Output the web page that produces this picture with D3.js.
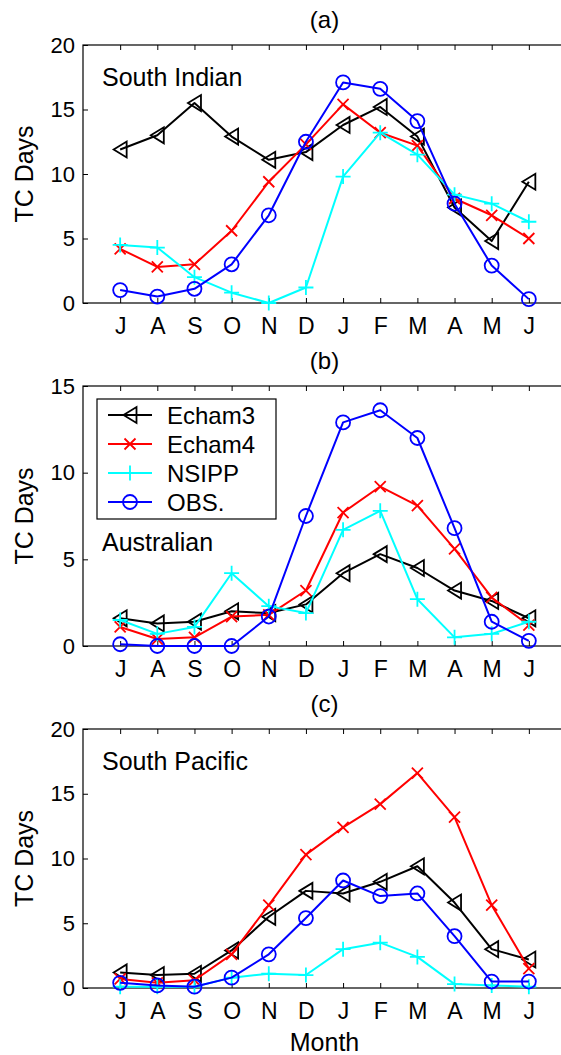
<!DOCTYPE html>
<html><head><meta charset="utf-8">
<script src="https://cdn.jsdelivr.net/npm/d3@7"></script>
<style>
body{margin:0;background:#fff;overflow:hidden;}
svg{display:block;font-family:"Liberation Sans",Arial,Helvetica,sans-serif;}
</style></head>
<body>
<svg id="chart" width="561" height="1055"></svg>
<script>
const months = ["J","A","S","O","N","D","J","F","M","A","M","J"];
const seriesNames = ["Echam3","Echam4","NSIPP","OBS."];
const seriesColors = ["#000000","#ff0000","#00ffff","#0000ff"];
const seriesMarkers = ["triangle","x","plus","circle"];

// (a) South Indian
const siEcham3 = [11.9,13.0,15.5,12.9,11.1,11.7,13.8,15.2,12.9,7.4,4.8,9.4];
const siEcham4 = [4.2,2.8,3.0,5.6,9.4,12.3,15.4,13.2,12.2,8.1,6.8,5.0];
const siNSIPP  = [4.5,4.3,2.0,0.8,0.0,1.2,9.8,13.2,11.5,8.4,7.7,6.3];
const siOBS    = [1.0,0.5,1.1,3.0,6.8,12.5,17.1,16.6,14.1,7.7,2.9,0.3];
// (b) Australian
const auEcham3 = [1.6,1.3,1.4,2.0,1.9,2.4,4.2,5.3,4.5,3.2,2.6,1.6];
const auEcham4 = [1.1,0.4,0.5,1.7,1.8,3.2,7.7,9.2,8.1,5.6,2.8,1.2];
const auNSIPP  = [1.5,0.7,1.1,4.2,2.3,1.9,6.7,7.8,2.7,0.5,0.7,1.4];
const auOBS    = [0.1,0.0,0.0,0.0,1.7,7.5,12.9,13.6,12.0,6.8,1.4,0.3];
// (c) South Pacific
const spEcham3 = [1.2,1.0,1.1,2.9,5.5,7.5,7.3,8.2,9.4,6.6,3.0,2.2];
const spEcham4 = [0.7,0.4,0.6,2.6,6.4,10.3,12.4,14.2,16.6,13.2,6.4,1.5];
const spNSIPP  = [0.1,0.1,0.1,0.8,1.1,1.0,3.0,3.5,2.4,0.3,0.2,0.1];
const spOBS    = [0.4,0.2,0.1,0.8,2.6,5.4,8.3,7.1,7.3,4.0,0.5,0.5];

const panelTitles = ["(a)","(b)","(c)"];
const regionNames = ["South Indian","Australian","South Pacific"];
const yMaxes = [20,15,20];
const yTicksA = [0,5,10,15,20];
const yTicksB = [0,5,10,15];
const yTicksC = [0,5,10,15,20];

const panels = [
  {title:panelTitles[0], region:regionNames[0], ymax:yMaxes[0], ticks:yTicksA, data:[siEcham3,siEcham4,siNSIPP,siOBS], top:45, bottom:303, legend:false},
  {title:panelTitles[1], region:regionNames[1], ymax:yMaxes[1], ticks:yTicksB, data:[auEcham3,auEcham4,auNSIPP,auOBS], top:386, bottom:646, legend:true},
  {title:panelTitles[2], region:regionNames[2], ymax:yMaxes[2], ticks:yTicksC, data:[spEcham3,spEcham4,spNSIPP,spOBS], top:729, bottom:988, legend:false}
];

const svg = d3.select("#chart");
const L = 83, R = 566;
const x = d3.scaleLinear().domain([0,13]).range([L,R]);
const monthPos = months.map((m,i)=>i+1);
const FONT = "Liberation Sans, Arial, sans-serif";

function markerPath(type){
  switch(type){
    case "triangle": return "M-6.5,0L6.5,-8L6.5,8Z";
    case "x": return "M-5.5,-5.5L5.5,5.5M-5.5,5.5L5.5,-5.5";
    case "plus": return "M-7.5,0L7.5,0M0,-7.5L0,7.5";
    case "circle": return d3.symbol().type(d3.symbolCircle).size(Math.PI*7*7)();
  }
}

function drawMarker(g, type, color, cx, cy){
  g.append("path").attr("d", markerPath(type))
    .attr("transform",`translate(${cx},${cy})`)
    .attr("fill","none").attr("stroke",color).attr("stroke-width",1.8);
}

panels.forEach(p=>{
  const y = d3.scaleLinear().domain([0,p.ymax]).range([p.bottom,p.top]);
  const g = svg.append("g");
  g.append("rect").attr("x",L).attr("y",p.top).attr("width",R-L).attr("height",p.bottom-p.top)
    .attr("fill","none").attr("stroke","#000").attr("stroke-width",1.2);
  const xb = d3.axisBottom(x).tickValues(monthPos).tickSizeInner(-5).tickSizeOuter(0)
    .tickFormat((d,i)=>months[i]);
  const xAx = g.append("g").attr("transform",`translate(0,${p.bottom})`).call(xb);
  xAx.select(".domain").remove();
  xAx.selectAll("text").attr("y",14).attr("dy","0.75em").attr("font-size",23).attr("fill","#000").attr("font-family",FONT);
  const xt = d3.axisTop(x).tickValues(monthPos).tickSizeInner(-5).tickSizeOuter(0).tickFormat("");
  g.append("g").attr("transform",`translate(0,${p.top})`).call(xt).select(".domain").remove();
  const yl = d3.axisLeft(y).tickValues(p.ticks).tickSizeInner(-5).tickSizeOuter(0).tickFormat(d3.format("d"));
  const yA = g.append("g").attr("transform",`translate(${L},0)`).call(yl);
  yA.select(".domain").remove();
  yA.selectAll("text").attr("x",-8).attr("font-size",22).attr("fill","#000").attr("font-family",FONT);
  const yr = d3.axisRight(y).tickValues(p.ticks).tickSizeInner(-5).tickSizeOuter(0).tickFormat("");
  g.append("g").attr("transform",`translate(${R},0)`).call(yr).select(".domain").remove();

  svg.append("text").attr("x",(L+R)/2).attr("y",p.top-17).attr("text-anchor","middle")
    .attr("font-size",24).text(p.title);
  svg.append("text").attr("transform",`translate(33,${(p.top+p.bottom)/2}) rotate(-90)`)
    .attr("text-anchor","middle").attr("font-size",25).text("TC Days");

  const line = d3.line().x((d,i)=>x(i+1)).y(d=>y(d));
  p.data.forEach((vals,si)=>{
    g.append("path").datum(vals).attr("d",line).attr("fill","none")
      .attr("stroke",seriesColors[si]).attr("stroke-width",2).attr("stroke-linejoin","round");
    vals.forEach((v,i)=>drawMarker(g, seriesMarkers[si], seriesColors[si], x(i+1), y(v)));
  });

  const regionY = p.legend ? 551 : p.top+41;
  svg.append("text").attr("x",102).attr("y",regionY).attr("font-size",25).text(p.region);

  if(p.legend){
    const lg = svg.append("g");
    lg.append("rect").attr("x",97).attr("y",399).attr("width",179).attr("height",120)
      .attr("fill","#fff").attr("stroke","#000").attr("stroke-width",1.2);
    seriesNames.forEach((n,i)=>{
      const ly = 415 + i*29;
      lg.append("line").attr("x1",108).attr("x2",152).attr("y1",ly).attr("y2",ly)
        .attr("stroke",seriesColors[i]).attr("stroke-width",2);
      drawMarker(lg, seriesMarkers[i], seriesColors[i], 130, ly);
      lg.append("text").attr("x",167).attr("y",ly).attr("dy","0.36em").attr("font-size",24).text(n);
    });
  }
});

svg.append("text").attr("x",(L+R)/2).attr("y",1051).attr("text-anchor","middle").attr("font-size",25).text("Month");
</script>
</body></html>
